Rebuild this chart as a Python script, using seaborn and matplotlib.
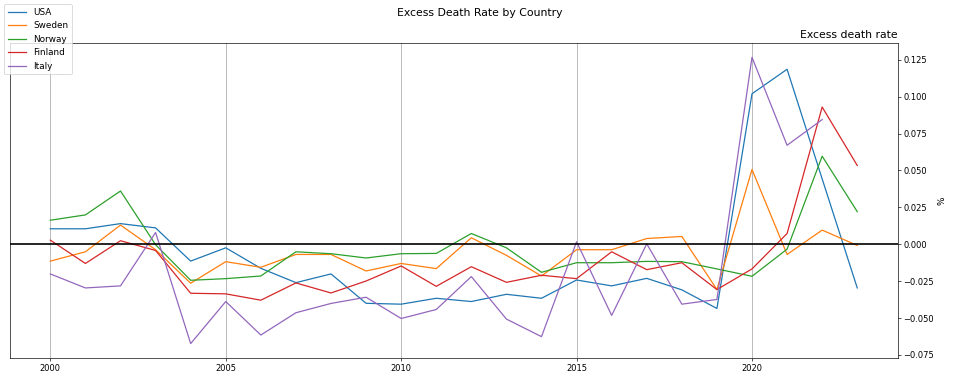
import pandas as pd
import numpy as np
import seaborn as sns
import matplotlib.pyplot as plt

# Data
years = list(range(2000, 2024))
countries = ["USA", "Sweden", "Norway", "Finland", "Italy"]

usa = [0.0105, 0.0105, 0.014, 0.0111, -0.0114, -0.0024, -0.0163, -0.026,
       -0.0201, -0.040, -0.0406, -0.0366, -0.0388, -0.0339, -0.0366, -0.0242,
       -0.0282, -0.0231, -0.0309, -0.0435, 0.102, 0.1186, 0.0443, -0.0296]
sweden = [-0.0114, -0.0051, 0.013, -0.0037, -0.0264, -0.0118, -0.0156, -0.0069,
          -0.0069, -0.0181, -0.013, -0.0165, 0.0044, -0.0075, -0.0215, -0.0037,
          -0.0037, 0.0039, 0.0053, -0.0307, 0.0507, -0.0069, 0.0096, -0.0008]
norway = [0.0163, 0.0199, 0.0361, -0.0003, -0.0244, -0.0233, -0.0215, -0.0051,
          -0.0064, -0.0093, -0.0064, -0.0062, 0.0073, -0.0024, -0.019, -0.0125,
          -0.0125, -0.0116, -0.0118, -0.0167, -0.0217, -0.0033, 0.0597, 0.0221]
finland = [0.0028, -0.013, 0.0024, -0.0042, -0.0332, -0.0336, -0.0379, -0.0262,
           -0.033, -0.0249, -0.0147, -0.0285, -0.0152, -0.0258, -0.021, -0.0233,
           -0.0051, -0.0172, -0.0125, -0.0307, -0.0167, 0.0073, 0.093, 0.0534]
italy = [-0.0201, -0.0296, -0.0282, 0.008, -0.0673, -0.0388, -0.0615, -0.0464,
         -0.0401, -0.0359, -0.0503, -0.0442, -0.0219, -0.0507, -0.0626, 0.0017,
         -0.0482, 0.0003, -0.0406, -0.0374, 0.1267, 0.0671, 0.0845, np.nan]

df = pd.DataFrame({"year": years, "USA": usa, "Sweden": sweden,
                   "Norway": norway, "Finland": finland, "Italy": italy})
long = df.melt(id_vars="year", var_name="country", value_name="rate").dropna()

fig, ax = plt.subplots(figsize=(16, 6.4), dpi=60)
sns.lineplot(data=long, x="year", y="rate", hue="country",
             hue_order=countries, palette="tab10", ax=ax, linewidth=1.5)

ax.axhline(0, color="black", linewidth=2)
ax.grid(axis="x", color="#b0b0b0", linewidth=1)
ax.set_axisbelow(True)

# y axis on the right
ax.yaxis.tick_right()
ax.yaxis.set_label_position("right")
ax.set_ylabel("%", fontsize=10.7)
ax.set_xlabel("")
ax.set_title("Excess death rate", loc="right", fontsize=13)
fig.suptitle("Excess Death Rate by Country", y=0.98, fontsize=13)

handles, labels = ax.get_legend_handles_labels()
ax.get_legend().remove()
fig.legend(handles, labels, loc="upper left", bbox_to_anchor=(0, 1),
           fontsize=10.7)

fig.subplots_adjust(left=0.0104, right=0.935, top=0.888, bottom=0.068)
fig.savefig("out.png", dpi=60)
